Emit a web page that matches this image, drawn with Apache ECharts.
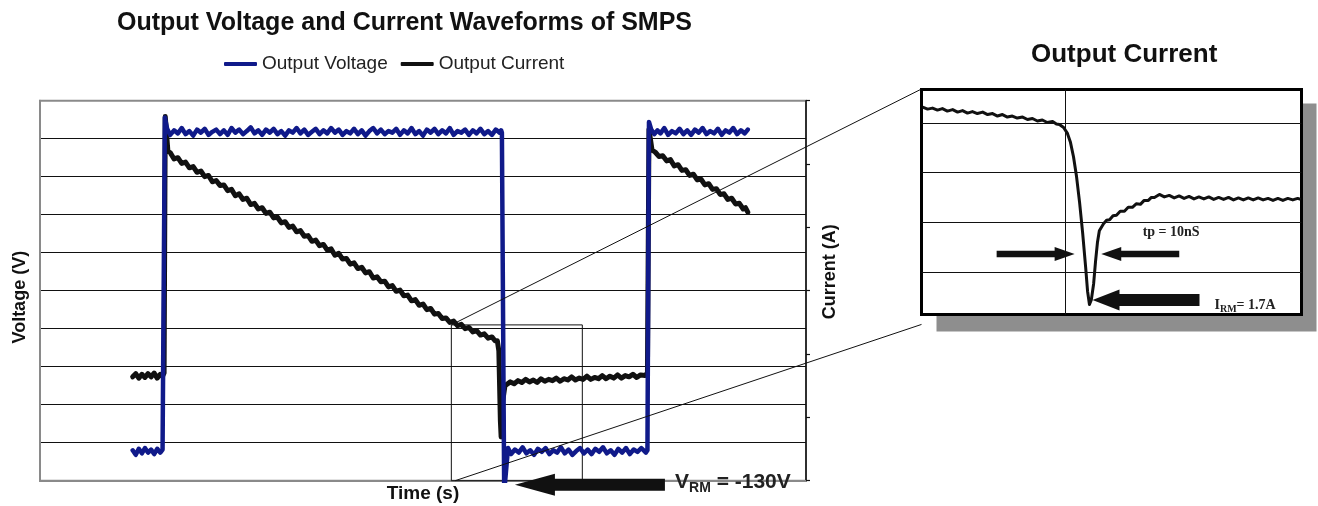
<!DOCTYPE html>
<html><head><meta charset="utf-8">
<script src="https://cdn.jsdelivr.net/npm/echarts@6/dist/echarts.min.js"></script>
<style>html,body{margin:0;padding:0;background:#fff}#c{width:1318px;height:506px}</style>
</head><body><div id="c"></div>
<script>
// ---- data (time in arbitrary units 0..100, voltage in V, current in A) ----
const seriesNames = ['Output Voltage', 'Output Current'];
const voltage = [
  [12.1,-160],[12.5,-166],[12.9,-158],[13.3,-164],[13.7,-157],[14.1,-163],[14.5,-159],[14.9,-165],[15.3,-158],[15.7,-163],[16.0,-159],[16.1,-160],
  [16.3,278],[16.6,263],[17.0,255],[17.5,261],[18.0,257],[18.5,264],[19.0,256],[19.5,260],[20.0,254],[20.5,262],[21.0,258],
  [21.5,263],[22.0,255],[22.5,259],[23.0,262],[23.5,256],[24.0,261],[24.5,255],[25.0,264],[25.5,258],[26.0,262],[26.5,256],
  [27.0,260],[27.5,265],[28.0,257],[28.5,261],[29.0,255],[29.5,262],[30.0,258],[30.5,263],[31.0,256],[31.5,260],[32.0,254],
  [32.5,261],[33.0,258],[33.5,264],[34.0,257],[34.5,262],[35.0,255],[35.5,259],[36.0,263],[36.5,256],[37.0,261],[37.5,257],
  [38.0,264],[38.5,258],[39.0,262],[39.5,255],[40.0,260],[40.5,257],[41.0,263],[41.5,256],[42.0,261],[42.5,254],[43.0,260],
  [43.5,264],[44.0,257],[44.5,262],[45.0,256],[45.5,260],[46.0,258],[46.5,263],[47.0,255],[47.5,261],[48.0,257],[48.5,264],
  [49.0,256],[49.5,260],[50.0,254],[50.5,262],[51.0,258],[51.5,263],[52.0,256],[52.5,261],[53.0,257],[53.5,264],[54.0,255],
  [54.5,260],[55.0,258],[55.5,262],[56.0,255],[56.5,261],[57.0,257],[57.5,263],[58.0,256],[58.5,260],[59.0,255],[59.5,262],
  [60.0,258],[60.2,261],[60.3,258],[60.6,-215],[60.8,-215],[61.1,-157],
  [61.5,-165],[62.0,-159],[62.5,-163],[63.0,-156],[63.5,-164],[64.0,-160],[64.5,-166],[65.0,-158],[65.5,-162],[66.0,-157],
  [66.5,-165],[67.0,-160],[67.5,-163],[68.0,-156],[68.5,-164],[69.0,-159],[69.5,-166],[70.0,-161],[70.5,-157],[71.0,-164],
  [71.5,-159],[72.0,-165],[72.5,-158],[73.0,-162],[73.5,-156],[74.0,-164],[74.5,-160],[75.0,-166],[75.5,-158],[76.0,-163],
  [76.5,-157],[77.0,-165],[77.5,-159],[78.0,-162],[78.5,-157],[79.1,-163],[79.3,-160],
  [79.5,272],[79.8,262],[80.2,256],[80.6,261],[81.0,257],[81.5,264],[82.0,255],[82.5,260],[83.0,257],[83.5,263],[84.0,256],
  [84.5,261],[85.0,255],[85.5,262],[86.0,258],[86.5,264],[87.0,256],[87.5,260],[88.0,257],[88.5,263],[89.0,255],[89.5,261],
  [90.0,258],[90.5,264],[91.0,256],[91.5,261],[92.0,257],[92.4,262]
];
const current = [
  [12.1,1.64],[12.5,1.69],[12.9,1.62],[13.3,1.68],[13.7,1.63],[14.1,1.69],[14.5,1.64],[14.9,1.70],[15.3,1.62],[15.7,1.68],
  [16.0,1.65],[16.2,1.70],[16.35,5.75],[16.7,5.20],
  [17.0,5.18],[17.5,5.08],[18.0,5.10],[18.5,5.01],[19.0,5.03],[19.5,4.94],[20.0,4.96],[20.5,4.87],[21.0,4.89],[21.5,4.80],
  [22.0,4.82],[22.5,4.72],[23.0,4.74],[23.5,4.66],[24.0,4.67],[24.5,4.58],[25.0,4.60],[25.5,4.50],[26.0,4.53],[26.5,4.44],
  [27.0,4.46],[27.5,4.36],[28.0,4.38],[28.5,4.29],[29.0,4.31],[29.5,4.22],[30.0,4.24],[30.5,4.15],[31.0,4.16],[31.5,4.07],
  [32.0,4.09],[32.5,4.00],[33.0,4.02],[33.5,3.93],[34.0,3.95],[34.5,3.86],[35.0,3.87],[35.5,3.78],[36.0,3.80],[36.5,3.71],
  [37.0,3.73],[37.5,3.64],[38.0,3.66],[38.5,3.56],[39.0,3.59],[39.5,3.50],[40.0,3.51],[40.5,3.42],[41.0,3.44],[41.5,3.35],
  [42.0,3.37],[42.5,3.28],[43.0,3.30],[43.5,3.20],[44.0,3.22],[44.5,3.14],[45.0,3.15],[45.5,3.06],[46.0,3.08],[46.5,2.99],
  [47.0,3.01],[47.5,2.92],[48.0,2.93],[48.5,2.84],[49.0,2.86],[49.5,2.77],[50.0,2.79],[50.5,2.70],[51.0,2.72],[51.5,2.63],
  [52.0,2.64],[52.5,2.56],[53.0,2.57],[53.5,2.50],[54.0,2.52],[54.5,2.45],[55.0,2.47],[55.5,2.40],[56.0,2.42],[56.5,2.35],
  [57.0,2.37],[57.5,2.30],[58.0,2.32],[58.5,2.25],[59.0,2.27],[59.4,2.21],[59.7,2.21],
  [59.9,2.05],[60.1,0.95],[60.2,0.69],[60.4,1.25],[60.7,1.50],[61.4,1.56],
  [61.9,1.53],[62.4,1.58],[62.9,1.55],[63.4,1.60],[63.9,1.56],[64.4,1.59],[64.9,1.55],[65.4,1.61],[65.9,1.57],[66.4,1.60],
  [66.9,1.58],[67.4,1.62],[67.9,1.57],[68.4,1.61],[68.9,1.59],[69.4,1.64],[69.9,1.59],[70.4,1.62],[70.9,1.60],[71.4,1.65],
  [71.9,1.60],[72.4,1.63],[72.9,1.61],[73.4,1.66],[73.9,1.61],[74.4,1.65],[74.9,1.62],[75.4,1.67],[75.9,1.62],[76.4,1.66],
  [76.9,1.64],[77.4,1.68],[77.9,1.63],[78.4,1.67],[79.0,1.66],[79.3,1.70],
  [79.5,5.55],[79.9,5.22],[80.3,5.19],[80.8,5.12],[81.3,5.13],[81.8,5.05],[82.3,5.07],[82.8,4.97],[83.3,4.99],[83.8,4.90],
  [84.3,4.91],[84.8,4.82],[85.3,4.84],[85.8,4.75],[86.3,4.76],[86.8,4.67],[87.3,4.69],[87.8,4.60],[88.3,4.61],[88.8,4.52],
  [89.3,4.53],[89.8,4.44],[90.3,4.46],[90.8,4.37],[91.3,4.38],[91.8,4.29],[92.1,4.31],[92.4,4.24]
];
// inset: zoomed output current around the reverse-recovery event (time 0..100, current A)
const insetCurrent = [
  [0.3,2.32],[1.6,2.28],[2.9,2.30],[4.2,2.26],[5.5,2.29],[6.8,2.24],[8.2,2.27],[9.5,2.22],[10.8,2.25],[12.1,2.20],
  [13.4,2.23],[14.7,2.19],[16.1,2.22],[17.4,2.17],[18.7,2.19],[20.0,2.14],[21.3,2.17],[22.6,2.12],[23.9,2.14],[25.2,2.10],
  [26.6,2.12],[27.9,2.07],[29.2,2.09],[30.5,2.04],[31.8,2.06],[33.1,2.01],[34.5,2.03],[35.5,1.98],[36.3,1.97],[37.4,1.91],
  [38.4,1.79],[39.2,1.61],[40.0,1.32],[40.8,0.92],[41.6,0.40],[42.4,-0.21],[43.2,-0.91],[43.7,-1.39],[44.2,-1.66],
  [44.7,-1.56],[45.3,-1.24],[45.8,-0.79],[46.3,-0.41],[46.8,-0.17],[47.9,-0.03],[48.7,0.04],[49.5,0.05],[50.4,0.13],
  [51.3,0.14],[52.3,0.22],[53.4,0.22],[54.4,0.30],[55.5,0.30],[56.5,0.37],[57.6,0.36],[58.6,0.44],[59.7,0.44],[60.5,0.50],
  [61.3,0.50],[62.6,0.56],[63.9,0.51],[65.2,0.54],[66.5,0.49],[67.8,0.53],[69.1,0.48],[70.4,0.52],[71.7,0.47],[73.0,0.51],
  [74.3,0.47],[75.6,0.51],[76.9,0.46],[78.2,0.50],[79.5,0.46],[80.8,0.50],[82.1,0.45],[83.4,0.49],[84.7,0.45],[86.0,0.49],
  [87.3,0.45],[88.6,0.49],[89.9,0.45],[91.2,0.48],[92.5,0.44],[93.8,0.48],[95.1,0.44],[96.4,0.48],[97.7,0.45],[99.0,0.48],
  [99.8,0.46]
];
const insetGridCurrents = [-1, 0, 1, 2];
const insetMarkerTime = 37.9;
const zoomWindow = [[53.7, 5], [70.8, -200]];   // [time, voltage] corners of the zoomed region
const labels = {
  title: 'Output Voltage and Current Waveforms of SMPS',
  insetTitle: 'Output Current',
  xName: 'Time (s)', yLeft: 'Voltage (V)', yRight: 'Current (A)',
  vrm: '-130V', irm: '1.7A', tp: 'tp = 10nS'
};

const FONT = '"Liberation Sans", Arial, sans-serif';
const SERIF = '"Liberation Serif", "Times New Roman", serif';
const BLUE = '#101a8a';
const BLACK = '#111';

const chart = echarts.init(document.getElementById('c'), null, {renderer: 'canvas'});
const insetYMin = -1.86, insetYMax = 2.675;

chart.setOption({
  animation: false,
  backgroundColor: '#fff',
  title: [
    {text: labels.title, left: 117, top: 11, padding: 0,
     textStyle: {fontFamily: FONT, fontSize: 25, fontWeight: 'bold', color: '#111'}},
    {text: labels.insetTitle, left: 1031, top: 42, padding: 0,
     textStyle: {fontFamily: FONT, fontSize: 26, fontWeight: 'bold', color: '#111'}}
  ],
  legend: {
    data: seriesNames, left: 224, top: 54.5, padding: 0, itemWidth: 33, itemHeight: 4, itemGap: 13,
    icon: 'roundRect', textStyle: {fontFamily: FONT, fontSize: 19, color: '#222'}
  },
  grid: [
    {left: 40, top: 100.7, width: 766, height: 380, show: true, borderColor: '#8a8a8a', borderWidth: 2,
     backgroundColor: '#fff', outerBoundsMode: 'none'},
    {left: 921.5, top: 89.5, width: 380, height: 225, show: true, borderColor: '#000', borderWidth: 3,
     backgroundColor: '#fff', outerBoundsMode: 'none'}
  ],
  xAxis: [
    {type: 'value', gridIndex: 0, min: 0, max: 100, name: labels.xName, nameLocation: 'middle', nameGap: 4,
     nameTextStyle: {fontFamily: FONT, fontSize: 19, fontWeight: 'bold', color: '#111'},
     axisLine: {show: true, onZero: false, lineStyle: {color: '#8a8a8a', width: 2}},
     axisTick: {show: false}, axisLabel: {show: false}, splitLine: {show: false}},
    {type: 'value', gridIndex: 1, min: 0, max: 100,
     axisLine: {show: false}, axisTick: {show: false}, axisLabel: {show: false}, splitLine: {show: false}}
  ],
  yAxis: [
    {type: 'value', gridIndex: 0, min: -200, max: 300, interval: 50, name: labels.yLeft, nameLocation: 'middle',
     nameRotate: 90, nameGap: 11,
     nameTextStyle: {fontFamily: FONT, fontSize: 18, fontWeight: 'bold', color: '#111', padding: [0, 13, 0, 0]},
     axisLine: {show: true, lineStyle: {color: '#8a8a8a', width: 2}}, axisTick: {show: false}, axisLabel: {show: false},
     splitLine: {show: true, showMinLine: false, showMaxLine: false, lineStyle: {color: '#111', width: 1}}},
    {type: 'value', gridIndex: 0, position: 'right', min: 0, max: 6, interval: 1, name: labels.yRight,
     nameLocation: 'middle', nameRotate: 90, nameGap: 15,
     nameTextStyle: {fontFamily: FONT, fontSize: 18, fontWeight: 'bold', color: '#111', padding: [0, 0, 0, 38]},
     axisLine: {show: true, onZero: false, lineStyle: {color: '#111', width: 1.5}},
     axisTick: {show: true, inside: false, length: 4, lineStyle: {color: '#111', width: 1.2}},
     axisLabel: {show: false}, splitLine: {show: false}},
    {type: 'value', gridIndex: 1, min: insetYMin, max: insetYMax,
     axisLine: {show: false}, axisTick: {show: false}, axisLabel: {show: false}, splitLine: {show: false}}
  ],
  series: [
    {name: seriesNames[0], type: 'line', xAxisIndex: 0, yAxisIndex: 0, data: voltage, showSymbol: false, symbol: 'none',
     z: 3, itemStyle: {color: BLUE}, lineStyle: {color: BLUE, width: 4.5, join: 'round', cap: 'round'},
     markArea: {silent: true, itemStyle: {color: 'rgba(0,0,0,0)', borderColor: BLACK, borderWidth: 1},
       data: [[{coord: zoomWindow[0]}, {coord: zoomWindow[1]}]]}},
    {name: seriesNames[1], type: 'line', xAxisIndex: 0, yAxisIndex: 1, data: current, showSymbol: false, symbol: 'none',
     z: 2, itemStyle: {color: BLACK}, lineStyle: {color: BLACK, width: 5, join: 'round', cap: 'round'}},
    {name: 'Inset Current', type: 'line', xAxisIndex: 1, yAxisIndex: 2, data: insetCurrent, showSymbol: false,
     symbol: 'none', z: 3, itemStyle: {color: BLACK}, lineStyle: {color: BLACK, width: 3, join: 'round'},
     markLine: {silent: true, symbol: 'none', label: {show: false}, animation: false,
       lineStyle: {color: BLACK, width: 1, type: 'solid'},
       data: insetGridCurrents.map(v => ({yAxis: v})).concat([{xAxis: insetMarkerTime}])}}
  ]
});

// ---- annotations positioned from data coordinates ----
const mainPx = pt => chart.convertToPixel({xAxisIndex: 0, yAxisIndex: 0}, pt);
const insetPx = pt => chart.convertToPixel({xAxisIndex: 1, yAxisIndex: 2}, pt);
function arrowPts(tip, dir, headLen, headHalf, bodyHalf, total) {
  const tx = tip[0], ty = tip[1];
  const hb = tx - dir * headLen, end = tx - dir * total;
  return [[tx, ty], [hb, ty - headHalf], [hb, ty - bodyHalf], [end, ty - bodyHalf],
          [end, ty + bodyHalf], [hb, ty + bodyHalf], [hb, ty + headHalf]];
}
const insTL = insetPx([0, insetYMax]);
const insBR = insetPx([100, insetYMin]);
const zTL = mainPx(zoomWindow[0]);
const zBL = mainPx([zoomWindow[0][0] + 0.5, zoomWindow[1][1]]);
const lowEnd = insetPx([0, -2.06]);
const g = [];
g.push({type: 'rect', z: -1, silent: true,
  shape: {x: insTL[0] + 15, y: insTL[1] + 14, width: insBR[0] - insTL[0], height: insBR[1] - insTL[1] + 3},
  style: {fill: '#8e8e8e'}});
g.push({type: 'line', z: 100, silent: true, shape: {x1: zTL[0], y1: zTL[1], x2: insTL[0] - 1, y2: insTL[1]},
  style: {stroke: BLACK, lineWidth: 1}});
g.push({type: 'line', z: 100, silent: true, shape: {x1: zBL[0], y1: zBL[1], x2: lowEnd[0], y2: lowEnd[1]},
  style: {stroke: BLACK, lineWidth: 1}});
// inset arrows
g.push({type: 'polygon', z: 100, silent: true, shape: {points: arrowPts(insetPx([40.3, -0.64]), 1, 20, 7, 3.3, 78)}, style: {fill: BLACK}});
g.push({type: 'polygon', z: 100, silent: true, shape: {points: arrowPts(insetPx([47.3, -0.64]), -1, 20, 7, 3.3, 78)}, style: {fill: BLACK}});
g.push({type: 'polygon', z: 100, silent: true, shape: {points: arrowPts(insetPx([45.0, -1.57]), -1, 27, 10.5, 6, 107)}, style: {fill: BLACK}});
// V_RM arrow
g.push({type: 'polygon', z: 100, silent: true, shape: {points: arrowPts(mainPx([62.0, -205.3]), -1, 40, 11, 6, 150)}, style: {fill: BLACK}});
// texts
const tpPos = insetPx([58.2, -0.2]);
g.push({type: 'text', z: 100, silent: true, x: tpPos[0], y: tpPos[1],
  style: {text: labels.tp, fontFamily: SERIF, fontSize: 14, fontWeight: 'bold', fill: '#222', align: 'left', verticalAlign: 'middle'}});
const irmPos = insetPx([77.1, -1.68]);
g.push({type: 'text', z: 100, silent: true, x: irmPos[0], y: irmPos[1],
  style: {text: '{a|I}{s|RM}{a|= ' + labels.irm + '}', align: 'left', verticalAlign: 'middle', fill: '#222',
    rich: {a: {fontFamily: SERIF, fontSize: 14, fontWeight: 'bold', fill: '#222'},
           s: {fontFamily: SERIF, fontSize: 10, fontWeight: 'bold', fill: '#222', padding: [8, 0, 0, 0]}}}});
const vrmPos = mainPx([82.9, -201.7]);
g.push({type: 'text', z: 90, silent: true, x: vrmPos[0], y: vrmPos[1],
  style: {text: '{a|V}{s|RM}{a| = ' + labels.vrm + '}', align: 'left', verticalAlign: 'middle', fill: '#222',
    rich: {a: {fontFamily: FONT, fontSize: 21, fontWeight: 'bold', fill: '#222'},
           s: {fontFamily: FONT, fontSize: 14, fontWeight: 'bold', fill: '#222', padding: [12, 0, 0, 0]}}}});
chart.setOption({graphic: {elements: g}});
</script>
</body></html>
